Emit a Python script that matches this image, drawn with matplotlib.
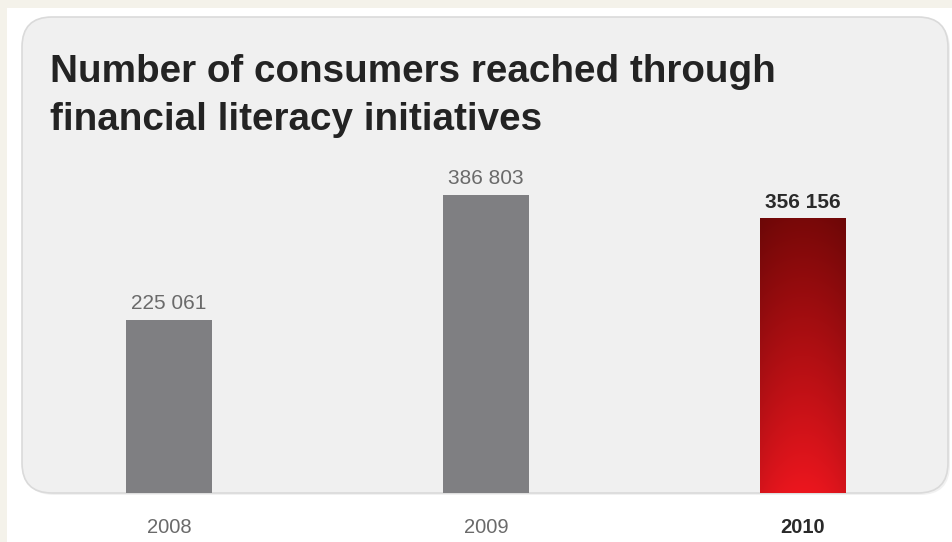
import matplotlib
matplotlib.use('Agg')
from matplotlib import pyplot as plt
from matplotlib.patches import FancyBboxPatch, Rectangle
import numpy as np

plt.rcParams['font.family'] = ['Liberation Sans', 'DejaVu Sans']

years = ['2008', '2009', '2010']
consumers = [225061, 386803, 356156]
title_lines = ['Number of consumers reached through', 'financial literacy initiatives']

W, H = 952, 542
fig = plt.figure(figsize=(W / 100, H / 100), dpi=100)
fig.patch.set_facecolor('white')

# background frame + rounded panel, in pixel coords (origin top-left)
bg = fig.add_axes([0, 0, 1, 1])
bg.set_xlim(0, W)
bg.set_ylim(H, 0)
bg.axis('off')
bg.add_patch(Rectangle((0, 0), W, 8, color='#f4f2ea', lw=0))
bg.add_patch(Rectangle((0, 0), 7, H, color='#f4f2ea', lw=0))
bg.add_patch(FancyBboxPatch((24, 19), 926, 476, boxstyle='round,pad=0,rounding_size=30',
                            fc='#e4e4e4', ec='none', alpha=0.5))
bg.add_patch(FancyBboxPatch((22, 17), 926, 476, boxstyle='round,pad=0,rounding_size=30',
                            fc='#f0f0f0', ec='#dadada', lw=1.2))

for i, line in enumerate(title_lines):
    bg.text(50, 82 + i * 48, line, fontsize=27.8, fontweight='bold', color='#232323',
            ha='left', va='baseline')

# bars
ax = fig.add_axes([0, 49 / H, 1, 493 / H])
ax.patch.set_alpha(0)
x = np.arange(len(years))
width = 0.27
ax.bar(x[:2], consumers[:2], width=width, color='#7f7f82', zorder=2)

# gradient bar for 2010
x0 = x[2] - width / 2
grad = np.linspace(0, 1, 256).reshape(-1, 1)
horiz = 1 - 0.10 * np.abs(np.linspace(-1, 1, 64)).reshape(1, -1) ** 2
top_c = np.array([0x78, 0x08, 0x08]) / 255
bot_c = np.array([0xec, 0x16, 0x1e]) / 255
img = top_c[None, None, :] * (1 - grad[..., None]) + bot_c[None, None, :] * grad[..., None]
img = img * horiz[..., None]
ax.imshow(img, extent=[x0, x0 + width, 0, consumers[2]], origin='upper',
          aspect='auto', zorder=2)
ax.set_xlim(-169 / 317, (W - 169) / 317)
ax.set_ylim(0, 640000)

for i, v in enumerate(consumers):
    bold = i == len(consumers) - 1
    ax.annotate(f'{v:,}'.replace(',', ' '), (x[i], v), xytext=(0, 5),
                textcoords='offset points', ha='center', va='bottom',
                fontsize=15, color='#2a2a2a' if bold else '#6a6a6a',
                fontweight='bold' if bold else 'normal')

ax.set_xticks(x)
ax.set_xticklabels(years, fontsize=14.5, color='#6a6a6a')
ax.get_xticklabels()[-1].set_fontweight('bold')
ax.get_xticklabels()[-1].set_color('#2a2a2a')
ax.tick_params(axis='x', length=0, pad=18)
ax.set_yticks([])
for s in ax.spines.values():
    s.set_visible(False)

fig.savefig('out.png', dpi=100)
